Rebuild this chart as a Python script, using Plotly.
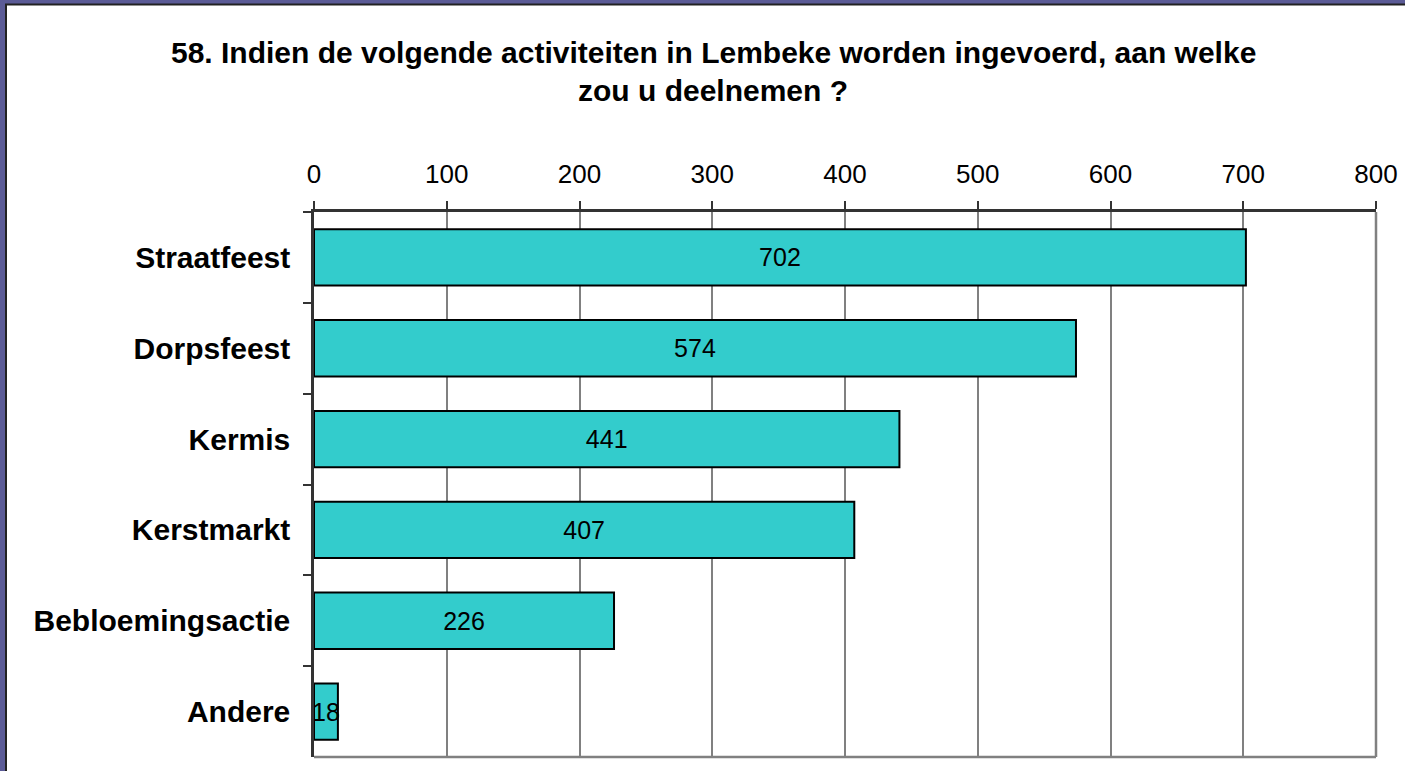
import plotly.graph_objects as go

categories = ["Straatfeest", "Dorpsfeest", "Kermis", "Kerstmarkt", "Bebloemingsactie", "Andere"]
values = [702, 574, 441, 407, 226, 18]
x_ticks = [0, 100, 200, 300, 400, 500, 600, 700, 800]
title_lines = ["58. Indien de volgende activiteiten in Lembeke worden ingevoerd, aan welke",
               "zou u deelnemen ?"]

W, H = 1405, 771
L, R, T, B = 314, 29, 212, 14
pw, ph = W - L - R, H - T - B

def px2x(px):
    return (px - L) / pw

def py2y(py):
    return (H - B - py) / ph

FONT = "Liberation Sans, Arial, sans-serif"

fig = go.Figure()
fig.add_trace(go.Bar(
    y=categories, x=values, orientation="h",
    marker=dict(color="#33CCCC", line=dict(color="#000000", width=2)),
    text=[str(v) for v in values], textposition="inside",
    insidetextanchor="middle", constraintext="none",
    textfont=dict(family=FONT, size=25, color="#000000"),
    hoverinfo="skip",
))

shapes = [
    dict(type="rect", xref="paper", yref="paper", layer="below",
         x0=px2x(6), x1=px2x(1430), y0=py2y(790), y1=py2y(4.5),
         fillcolor="#FFFFFF", line=dict(color="#222222", width=2)),
    dict(type="line", xref="paper", yref="paper", x0=1, x1=1, y0=0, y1=1,
         line=dict(color="#808080", width=2.5)),
    dict(type="line", xref="paper", yref="paper", x0=0, x1=1, y0=0, y1=0,
         line=dict(color="#808080", width=2.5)),
]

annotations = [
    dict(text="<b>%s</b>" % title_lines[0], xref="paper", yref="paper",
         x=px2x(713), y=py2y(52), xanchor="center", yanchor="middle",
         showarrow=False, font=dict(family=FONT, size=30, color="#000000")),
    dict(text="<b>%s</b>" % title_lines[1], xref="paper", yref="paper",
         x=px2x(713), y=py2y(90), xanchor="center", yanchor="middle",
         showarrow=False, font=dict(family=FONT, size=30, color="#000000")),
]

fig.update_layout(
    width=W, height=H,
    margin=dict(l=L, r=R, t=T, b=B, pad=0, autoexpand=False),
    paper_bgcolor="#5B5B96",
    plot_bgcolor="rgba(0,0,0,0)",
    showlegend=False,
    bargap=0.38,
    shapes=shapes,
    annotations=annotations,
    xaxis=dict(
        side="top", range=[0, 800], tickvals=x_ticks,
        ticktext=[str(t) for t in x_ticks],
        showgrid=True, gridcolor="#808080", gridwidth=2,
        showline=True, linecolor="#333333", linewidth=2.5,
        ticks="outside", ticklen=8, tickwidth=2, tickcolor="#333333",
        ticklabelstandoff=8, automargin=False,
        tickfont=dict(family=FONT, size=26, color="#000000"),
        zeroline=False, fixedrange=True,
    ),
    yaxis=dict(
        type="category", autorange="reversed",
        categoryorder="array", categoryarray=categories,
        showgrid=False, tickson="boundaries",
        showline=True, linecolor="#333333", linewidth=2.5,
        ticks="outside", ticklen=8, tickwidth=2, tickcolor="#333333",
        ticklabelstandoff=15, automargin=False,
        tickfont=dict(family=FONT, size=30, color="#000000", weight="bold"),
        fixedrange=True,
    ),
)

fig.write_html("out.html", config={"displayModeBar": False},
               post_script="document.body.style.margin='0';document.body.style.overflow='hidden';")
